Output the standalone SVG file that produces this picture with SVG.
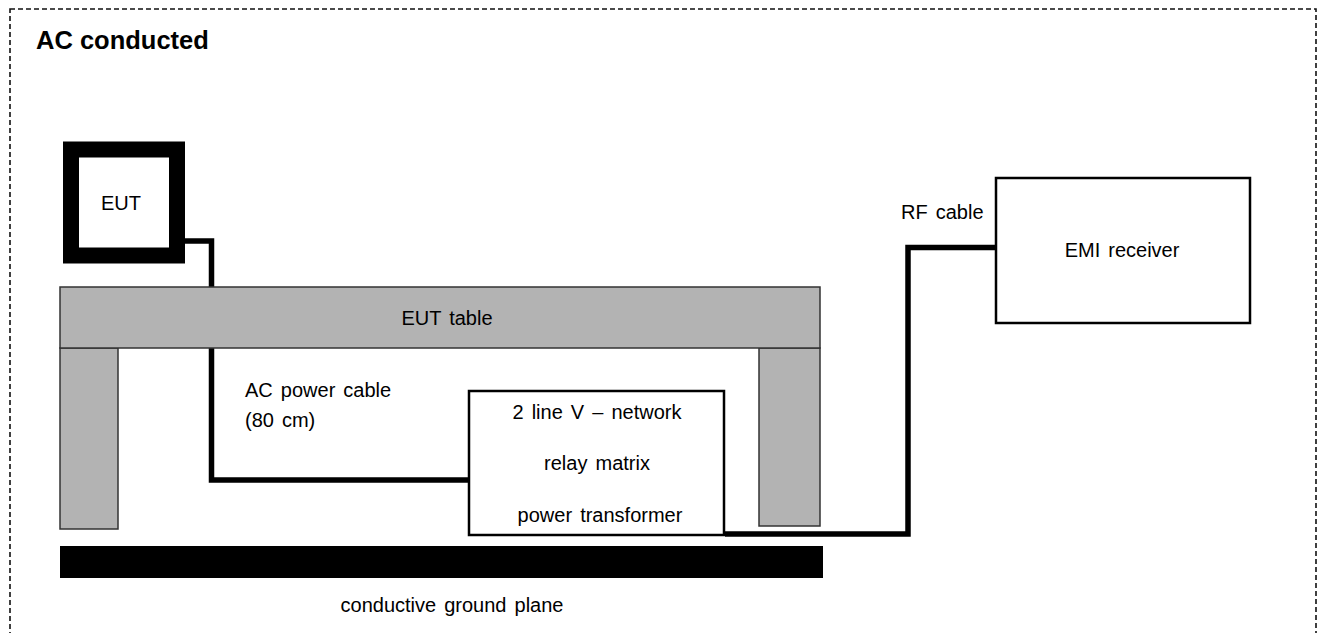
<svg xmlns="http://www.w3.org/2000/svg" width="1320" height="633" viewBox="0 0 1320 633">
<style>
.t{font-family:"Liberation Sans",Arial,sans-serif;font-size:20px;fill:#000;word-spacing:2.5px}
.title{font-family:"Liberation Sans",Arial,sans-serif;font-size:25.5px;font-weight:bold;fill:#000}
.gray{fill:#b3b3b3;stroke:#333;stroke-width:1.5}
.box{fill:#fff;stroke:#000;stroke-width:2.5}
.cable{fill:none;stroke:#000;stroke-width:5.5;stroke-linejoin:miter}
</style>
<rect width="1320" height="633" fill="#fff"/>
<rect x="10" y="9" width="1306" height="640" fill="none" stroke="#111" stroke-width="1.6" stroke-dasharray="5,3"/>
<text class="title" x="36" y="49">AC conducted</text>
<g id="connectors">
<polyline class="cable" points="185,241 211.5,241 211.5,287"/>
<polyline class="cable" points="211.5,348 211.5,480 468,480"/>
<polyline class="cable" points="725,534 908,534 908,247.5 995,247.5"/>
</g>
<g id="table">
<rect class="gray" x="60" y="348" width="58" height="181"/>
<rect class="gray" x="759" y="348" width="61" height="178"/>
<rect class="gray" x="60" y="287" width="760" height="61"/>
<text class="t" x="447" y="325" text-anchor="middle">EUT table</text>
</g>
<g id="eut">
<rect x="71" y="149.5" width="106" height="106" fill="#fff" stroke="#000" stroke-width="16"/>
<text class="t" x="121" y="210" text-anchor="middle">EUT</text>
</g>
<g id="cable-label">
<text class="t" x="245" y="397">AC power cable</text>
<text class="t" x="245" y="427">(80 cm)</text>
</g>
<g id="lisn">
<rect class="box" x="469" y="391" width="255" height="144"/>
<text class="t" x="597" y="419" text-anchor="middle">2 line V – network</text>
<text class="t" x="597" y="470" text-anchor="middle">relay matrix</text>
<text class="t" x="600" y="522" text-anchor="middle">power transformer</text>
</g>
<g id="emi">
<rect class="box" x="996" y="178" width="254" height="145"/>
<text class="t" x="1122" y="257" text-anchor="middle">EMI receiver</text>
</g>
<g id="rf-label">
<text class="t" x="901" y="219">RF cable</text>
</g>
<g id="ground">
<rect x="60" y="546" width="763" height="32" fill="#000"/>
<text class="t" x="452" y="612" text-anchor="middle">conductive ground plane</text>
</g>
</svg>
